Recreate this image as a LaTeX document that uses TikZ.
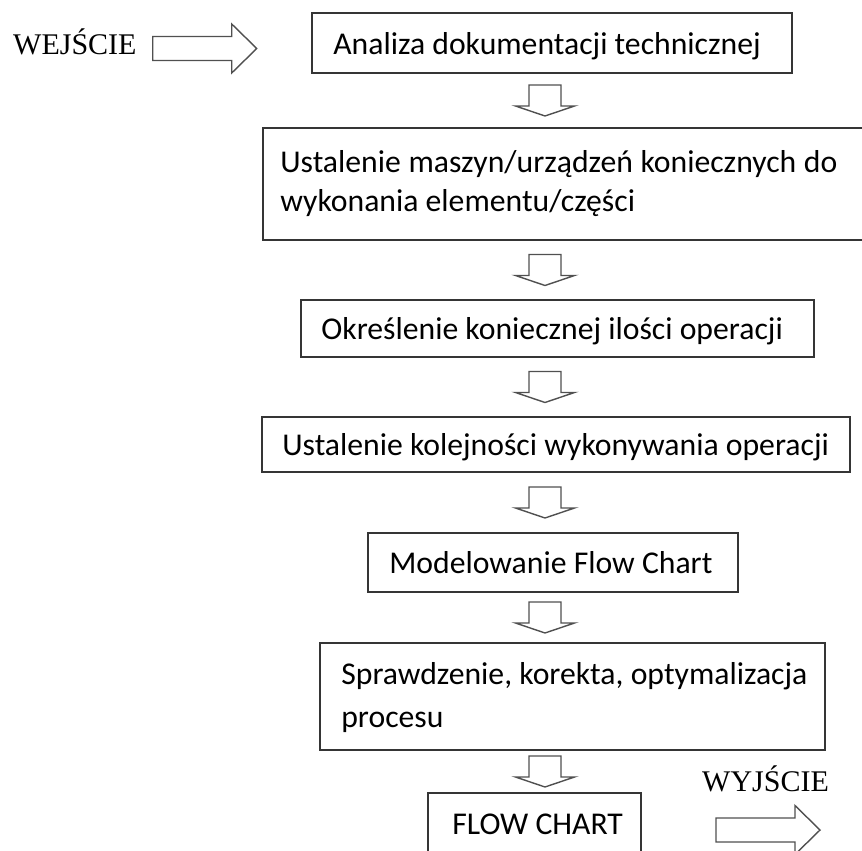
\documentclass[tikz,border=0pt]{standalone}
\usepackage{fontspec}
\setmainfont{Carlito}
\newfontfamily\seriffont{Liberation Serif}
\usetikzlibrary{calc}
\definecolor{boxgray}{HTML}{353535}
\definecolor{arrowgray}{HTML}{505050}
\begin{document}
\begin{tikzpicture}[x=1pt,y=-1pt,
  stepbox/.style={draw=boxgray, line width=1.7pt, rectangle, inner sep=0pt},
  steptext/.style={font=\fontsize{31.7}{40}\selectfont, text=black, inner sep=0pt, anchor=base west},
  iolabel/.style={font=\seriffont\fontsize{30}{36}\selectfont, text=black, inner sep=0pt, anchor=base west},
  blockarrow/.style={draw=arrowgray, line width=1.4pt, fill=white, line join=miter},
  downarr/.pic={\draw[blockarrow] (-16,-15.5) -- (16,-15.5) -- (16,5.5) -- (29.5,5.5)
      -- (0,15.5) -- (-29.5,5.5) -- (-16,5.5) -- cycle;},
  rightarr/.pic={\draw[blockarrow] (0,-12) -- (79,-12) -- (79,-24.5) -- (104,0)
      -- (79,24.5) -- (79,12) -- (0,12) -- cycle;}
]
\useasboundingbox (0,0) rectangle (862,851);
\clip (0,0) rectangle (862,851);

% process steps
\node[stepbox, minimum width=480pt, minimum height=60pt]  (b1) at (552,43) {};
\node[stepbox, minimum width=612pt, minimum height=112pt] (b2) at (569,184) {};
\node[stepbox, minimum width=513pt, minimum height=57pt]  (b3) at (557.5,328.5) {};
\node[stepbox, minimum width=588pt, minimum height=55pt]  (b4) at (556,444.5) {};
\node[stepbox, minimum width=370pt, minimum height=59pt]  (b5) at (553,562.5) {};
\node[stepbox, minimum width=505pt, minimum height=107pt] (b6) at (572.5,696.5) {};
\node[stepbox, minimum width=213pt, minimum height=82pt]  (b7) at (534.5,834) {};

% step labels (first lines of two-line labels are justified)
\node[steptext] (t1)  at ($(b1.west)+(22,12)$)  {Analiza dokumentacji technicznej};
\node[steptext] (t2a) at ($(b2.west)+(18,-12)$) {\hbox to 557pt{Ustalenie maszyn/urządzeń koniecznych do}};
\node[steptext] (t2b) at ($(b2.west)+(18,27)$)  {wykonania elementu/części};
\node[steptext] (t3)  at ($(b3.west)+(21,11)$)  {Określenie koniecznej ilości operacji};
\node[steptext] (t4)  at ($(b4.west)+(21,11)$)  {Ustalenie kolejności wykonywania operacji};
\node[steptext] (t5)  at ($(b5.west)+(22,11)$)  {Modelowanie Flow Chart};
\node[steptext] (t6a) at ($(b6.west)+(22,-12)$) {\hbox to 466pt{Sprawdzenie, korekta, optymalizacja}};
\node[steptext] (t6b) at ($(b6.west)+(22,31)$)  {procesu};
\node[steptext] (t7)  at ($(b7.north west)+(25,42)$) {FLOW CHART};

% block arrows between the steps, all on one column
\coordinate (col) at (545,0);
\foreach \a/\b in {b1/b2, b2/b3, b3/b4, b4/b5, b5/b6, b6/b7} {
  \coordinate (m-\a) at ($(\a.south)!0.5!(\b.north)$);
  \pic at (m-\a -| col) {downarr};
}

% input and output
\node[iolabel] (in)  at (13,55)  {WEJŚCIE};
\pic at ($(in.base east)+(16,-6.5)$) {rightarr};
\node[iolabel] (out) at (702,791) {WYJŚCIE};
\pic at (716,830) {rightarr};
\end{tikzpicture}
\end{document}
